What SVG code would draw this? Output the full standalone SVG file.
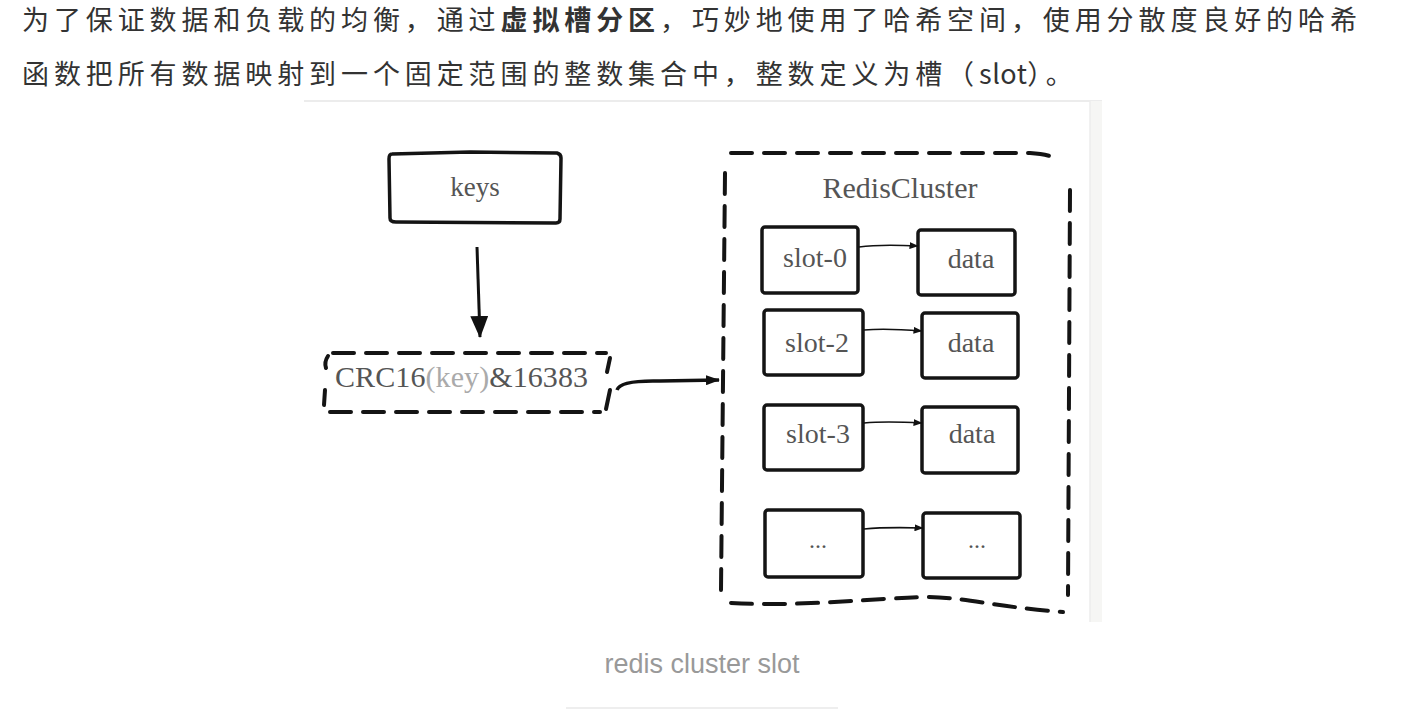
<svg xmlns="http://www.w3.org/2000/svg" width="1412" height="720" viewBox="0 0 1412 720">
<style>
.para{font-family:"Noto Sans CJK SC","Noto Sans",sans-serif;font-size:27px;fill:#333;letter-spacing:4.9px}
.b{font-weight:bold}
.lat{letter-spacing:0.5px}
.lbl{font-family:"Liberation Serif","DejaVu Serif",serif;fill:#555}
.box{fill:none;stroke:#141414;stroke-width:3.5;stroke-linejoin:round;stroke-linecap:round}
.dash{fill:none;stroke:#141414;stroke-width:4;stroke-dasharray:21 12;stroke-linecap:round}
.conn{fill:none;stroke:#111}
.cap{font-family:"Liberation Sans","Noto Sans",sans-serif;font-size:27px;fill:#999}
</style>
<defs>
<marker id="big" markerUnits="userSpaceOnUse" viewBox="0 0 22 18" markerWidth="22" markerHeight="18" refX="21" refY="9" orient="auto">
<path d="M0,0 L22,9 L0,18 Z" fill="#111"/>
</marker>
<marker id="mid" markerUnits="userSpaceOnUse" viewBox="0 0 14 10" markerWidth="14" markerHeight="10" refX="13" refY="5" orient="auto">
<path d="M0,0 L14,5 L0,10 Z" fill="#111"/>
</marker>
<marker id="small" markerUnits="userSpaceOnUse" viewBox="0 0 9 7" markerWidth="9" markerHeight="7" refX="8.5" refY="3.5" orient="auto">
<path d="M0,0 L9,3.5 L0,7 Z" fill="#111"/>
</marker>
</defs>
<rect width="1412" height="720" fill="#fff"/>
<g id="paragraph">
<text class="para" x="22" y="29.5">为了保证数据和负载的均衡，通过<tspan class="b">虚拟槽分区</tspan>，巧妙地使用了哈希空间，使用分散度良好的哈希</text>
<text class="para" x="22" y="84">函数把所有数据映射到一个固定范围的整数集合中，整数定义为槽（<tspan class="lat">slot</tspan>）。</text>
</g>
<g id="figure-frame">
<line x1="304" y1="101" x2="1102" y2="101" stroke="#ececec" stroke-width="2"/>
<rect x="1090" y="101" width="12" height="521" fill="#f6f6f4"/>
<line x1="1090" y1="101" x2="1090" y2="622" stroke="#ececec" stroke-width="1.5"/>
</g>
<g id="node-keys">
<path class="box" d="M392,154 L470,152 L557,153 Q561,154 561,158 L560,219 Q560,223 556,223 L396,222 Q390,222 390,218 L389,159 Q389,154 392,154 Z"/>
<text class="lbl" x="475" y="196" font-size="27" text-anchor="middle">keys</text>
</g>
<g id="node-crc">
<path class="dash" d="M333,353 L606,353"/>
<path class="dash" d="M330,412 L600,412" stroke-dasharray="22 12"/>
<path class="dash" d="M328,356 Q324,362 326,368 M325,390 L324,405"/>
<path class="dash" d="M610,358 L607,372 M610,390 L606,409"/>
<text class="lbl" x="335" y="387" font-size="30" textLength="253">CRC16<tspan fill="#aaa">(key)</tspan>&amp;16383</text>
</g>
<g id="node-cluster">
<path class="dash" d="M731,153 L1030,153 Q1048,154 1057,159"/>
<path class="dash" d="M1070,190 L1068,595"/>
<path class="dash" d="M725,173 L721,590"/>
<path class="dash" d="M731,603 C800,607 880,598 925,597 C965,597 995,607 1063,612"/>
<text class="lbl" x="900" y="198" font-size="30" text-anchor="middle">RedisCluster</text>
</g>
<g id="node-slot-0">
<rect class="box" x="762" y="227" width="96" height="66" rx="3"/>
<text class="lbl" x="815" y="267" font-size="28" text-anchor="middle">slot-0</text>
</g>
<g id="node-data-0">
<rect class="box" x="918" y="230" width="97" height="65" rx="3"/>
<text class="lbl" x="971" y="268" font-size="28" text-anchor="middle">data</text>
</g>
<g id="node-slot-2">
<rect class="box" x="764" y="310" width="99" height="65" rx="3"/>
<text class="lbl" x="817" y="352" font-size="28" text-anchor="middle">slot-2</text>
</g>
<g id="node-data-2">
<rect class="box" x="922" y="313" width="96" height="65" rx="3"/>
<text class="lbl" x="971" y="352" font-size="28" text-anchor="middle">data</text>
</g>
<g id="node-slot-3">
<rect class="box" x="764" y="405" width="99" height="65" rx="3"/>
<text class="lbl" x="818" y="443" font-size="28" text-anchor="middle">slot-3</text>
</g>
<g id="node-data-3">
<rect class="box" x="922" y="407" width="96" height="66" rx="3"/>
<text class="lbl" x="972" y="443" font-size="28" text-anchor="middle">data</text>
</g>
<g id="node-slot-n">
<rect class="box" x="765" y="510" width="98" height="67" rx="3"/>
<text class="lbl" x="818" y="548" font-size="24" text-anchor="middle">...</text>
</g>
<g id="node-data-n">
<rect class="box" x="923" y="513" width="97" height="65" rx="3"/>
<text class="lbl" x="977" y="548" font-size="24" text-anchor="middle">...</text>
</g>
<g id="connectors">
<path class="conn" stroke-width="3" d="M477,247 L480,337" marker-end="url(#big)"/>
<path class="conn" stroke-width="3.5" d="M617,390 Q620,380 660,381 L719,380" marker-end="url(#mid)"/>
<path class="conn" stroke-width="1.6" d="M859,247 Q880,244 918,246" marker-end="url(#small)"/>
<path class="conn" stroke-width="1.6" d="M864,330 Q885,328 922,331" marker-end="url(#small)"/>
<path class="conn" stroke-width="1.6" d="M864,423 Q885,421 922,423" marker-end="url(#small)"/>
<path class="conn" stroke-width="1.6" d="M864,529 Q885,527 923,528" marker-end="url(#small)"/>
</g>
<g id="caption">
<text class="cap" x="702" y="673" text-anchor="middle">redis cluster slot</text>
<line x1="566" y1="708" x2="838" y2="708" stroke="#eeeeee" stroke-width="2"/>
</g>
</svg>
